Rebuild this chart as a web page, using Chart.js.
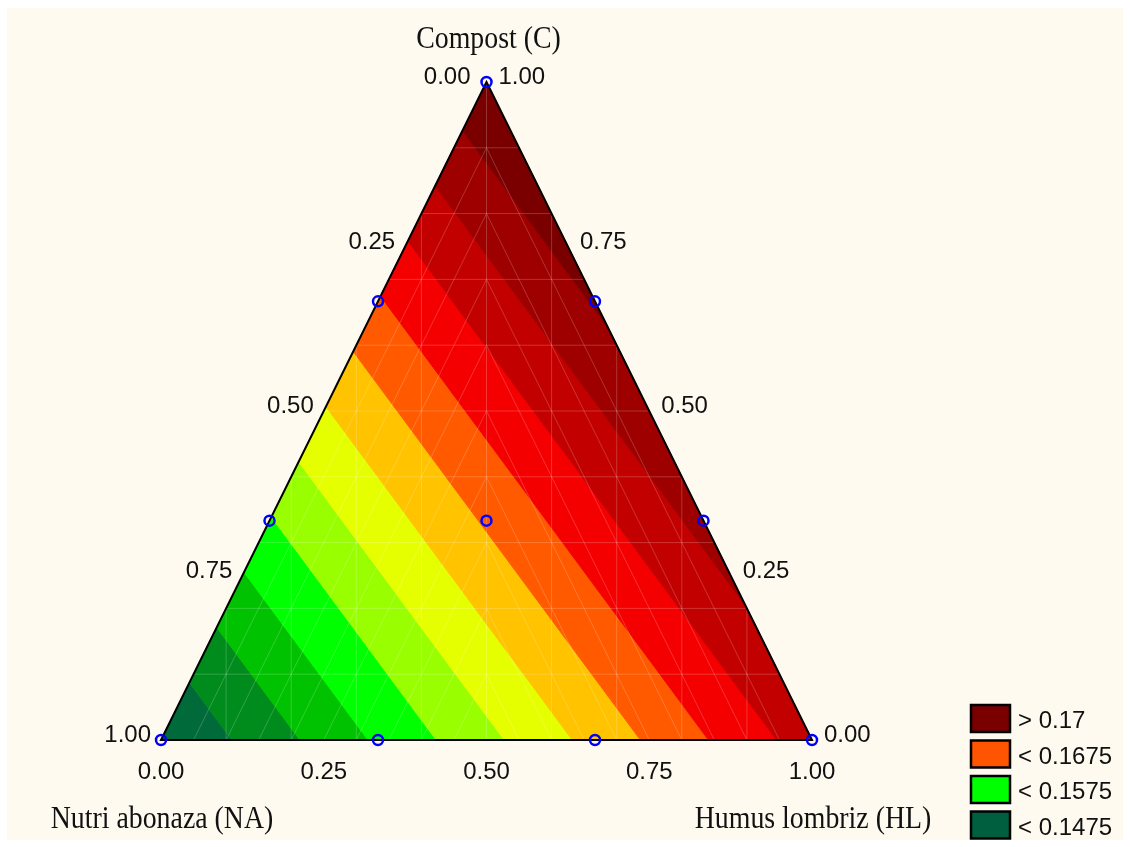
<!DOCTYPE html>
<html>
<head>
<meta charset="utf-8">
<script src="https://cdn.jsdelivr.net/npm/chart.js@4.4.1/dist/chart.umd.min.js"></script>
<style>
  html, body { margin: 0; padding: 0; background: #ffffff; }
  canvas { display: block; }
</style>
</head>
<body>
<canvas id="chart" width="1130" height="847"></canvas>
<script>
// ---- Mixture components ----
const componentTitles = ['Nutri abonaza (NA)', 'Compost (C)', 'Humus lombriz (HL)'];

// ---- Simplex-lattice design runs (fractions of NA, C, HL) ----
const runNA = [1, 0, 0, 0.6667, 0.3333, 0.6667, 0.3333, 0, 0, 0.3333];
const runC  = [0, 1, 0, 0.3333, 0.6667, 0, 0, 0.6667, 0.3333, 0.3333];
const runHL = [0, 0, 1, 0, 0, 0.3333, 0.6667, 0.3333, 0.6667, 0.3333];

// ---- Fitted linear blending model: response of each pure component ----
const responseNA = 0.1474;
const responseC  = 0.1772;
const responseHL = 0.1713;

// ---- Contour levels and band colours (lowest band first) ----
const contourLevels = [0.15, 0.1525, 0.155, 0.1575, 0.16, 0.1625, 0.165, 0.1675, 0.17, 0.1725, 0.175];
const bandColors = ['#006a3a', '#008c1c', '#00c200', '#00ff00', '#99ff00', '#e6ff00',
                    '#ffc300', '#ff5a00', '#f50000', '#c20000', '#9e0000', '#7a0000'];

// ---- Legend ----
const legendLabels = ['> 0.17', '< 0.1675', '< 0.1575', '< 0.1475'];
const legendColors = ['#7a0000', '#ff5500', '#00ff00', '#005f3e'];

// ---- Axis ticks ----
const tickValues = [0, 0.25, 0.5, 0.75, 1];
const tickLabels = ['0.00', '0.25', '0.50', '0.75', '1.00'];

// Barycentric (NA, C, HL) -> plane coordinates of the triangle
function toXY(na, c, hl) {
  return { x: hl + 0.5 * c, y: c };
}

const designPoints = runNA.map((na, i) => toXY(na, runC[i], runHL[i]));

// Clip a polygon (vertices carry the response value v) to v >= level or v <= level
function clipPoly(poly, level, keepAbove) {
  const out = [];
  const inside = p => keepAbove ? p.v >= level : p.v <= level;
  for (let i = 0; i < poly.length; i++) {
    const a = poly[i], b = poly[(i + 1) % poly.length];
    const ia = inside(a), ib = inside(b);
    if (ia) out.push(a);
    if (ia !== ib) {
      const t = (level - a.v) / (b.v - a.v);
      out.push({ x: a.x + t * (b.x - a.x), y: a.y + t * (b.y - a.y), v: level });
    }
  }
  return out;
}

const ternaryPlugin = {
  id: 'ternary',
  beforeDraw(chart) {
    const ctx = chart.ctx;
    ctx.save();
    ctx.fillStyle = '#ffffff';
    ctx.fillRect(0, 0, chart.width, chart.height);
    ctx.fillStyle = '#fffaf0';
    ctx.fillRect(7, 8, chart.width - 14, chart.height - 15);
    ctx.restore();
  },
  beforeDatasetsDraw(chart) {
    const ctx = chart.ctx;
    const sx = chart.scales.x, sy = chart.scales.y;
    const P = p => [sx.getPixelForValue(p.x), sy.getPixelForValue(p.y)];

    const vNA = toXY(1, 0, 0), vC = toXY(0, 1, 0), vHL = toXY(0, 0, 1);
    const tri = [
      { x: vNA.x, y: vNA.y, v: responseNA },
      { x: vHL.x, y: vHL.y, v: responseHL },
      { x: vC.x,  y: vC.y,  v: responseC }
    ];

    const tracePoly = poly => {
      ctx.beginPath();
      poly.forEach((p, i) => {
        const [X, Y] = P(p);
        if (i === 0) ctx.moveTo(X, Y); else ctx.lineTo(X, Y);
      });
      ctx.closePath();
    };

    // Contour bands
    ctx.save();
    bandColors.forEach((col, k) => {
      let poly = tri;
      if (k > 0) poly = clipPoly(poly, contourLevels[k - 1], true);
      if (k < contourLevels.length) poly = clipPoly(poly, contourLevels[k], false);
      if (poly.length < 3) return;
      tracePoly(poly);
      ctx.fillStyle = col;
      ctx.fill();
      ctx.strokeStyle = col;
      ctx.lineWidth = 1;
      ctx.stroke();
    });
    ctx.restore();

    // Faint triangulation mesh
    ctx.save();
    tracePoly(tri);
    ctx.clip();
    ctx.strokeStyle = 'rgba(255,255,255,0.2)';
    ctx.lineWidth = 1;
    const seg = (a, b) => {
      const [x1, y1] = P(a), [x2, y2] = P(b);
      ctx.beginPath(); ctx.moveTo(x1, y1); ctx.lineTo(x2, y2); ctx.stroke();
    };
    for (let k = 1; k < 10; k++) {
      seg({ x: k / 10, y: 0 }, { x: k / 10, y: 1 });
      seg({ x: 0, y: k / 10 }, { x: 1, y: k / 10 });
    }
    const [midX] = P({ x: 0.5, y: 0 });
    ctx.save();
    ctx.beginPath(); ctx.rect(0, 0, midX, chart.height); ctx.clip();
    for (let k = 1; k < 20; k++) seg({ x: k / 20, y: 0 }, { x: k / 20 + 0.5, y: 1 });
    ctx.restore();
    ctx.save();
    ctx.beginPath(); ctx.rect(midX, 0, chart.width, chart.height); ctx.clip();
    for (let k = 1; k < 20; k++) seg({ x: k / 20, y: 0 }, { x: k / 20 - 0.5, y: 1 });
    ctx.restore();
    ctx.restore();

    // Triangle outline
    ctx.save();
    tracePoly(tri);
    ctx.strokeStyle = '#000000';
    ctx.lineWidth = 2;
    ctx.lineJoin = 'miter';
    ctx.stroke();
    ctx.restore();
  },
  afterDraw(chart) {
    const ctx = chart.ctx;
    const sx = chart.scales.x, sy = chart.scales.y;
    const P = p => [sx.getPixelForValue(p.x), sy.getPixelForValue(p.y)];
    const numFont = '24px "Liberation Sans", Arial, sans-serif';
    const titleFont = '32px "Liberation Serif", "Times New Roman", serif';

    const text = (str, X, Y, font, align, squeeze) => {
      ctx.save();
      ctx.font = font;
      ctx.fillStyle = '#111111';
      ctx.textBaseline = 'alphabetic';
      ctx.textAlign = align;
      ctx.translate(X, Y);
      ctx.scale(squeeze || 1, 1);
      ctx.fillText(str, 0, 0);
      ctx.restore();
    };

    // NA scale along the left edge (0 at the C apex, 1 at the NA corner)
    tickValues.forEach((t, i) => {
      const [X, Y] = P(toXY(t, 1 - t, 0));
      text(tickLabels[i], X - (t === 0 ? 16 : 10), Y + 2, numFont, 'right');
    });
    // C scale along the right edge (1 at the apex, 0 at the HL corner)
    tickValues.forEach((t, i) => {
      const [X, Y] = P(toXY(0, t, 1 - t));
      text(tickLabels[i], X + 12, Y + 2, numFont, 'left');
    });
    // HL scale along the base
    tickValues.forEach((t, i) => {
      const [X, Y] = P(toXY(1 - t, 0, t));
      text(tickLabels[i], X, Y + 39, numFont, 'center');
    });

    // Component titles
    const [cx, cy] = P(toXY(0, 1, 0));
    text(componentTitles[1], cx + 2, cy - 34, titleFont, 'center', 0.87);
    const [nx, ny] = P(toXY(1, 0, 0));
    text(componentTitles[0], nx + 1, ny + 88, titleFont, 'center', 0.87);
    const [hx, hy] = P(toXY(0, 0, 1));
    text(componentTitles[2], hx + 1, hy + 88, titleFont, 'center', 0.87);

    // Legend
    legendLabels.forEach((lab, i) => {
      const top = 705 + i * 35.5;
      ctx.save();
      ctx.fillStyle = legendColors[i];
      ctx.fillRect(971, top, 39, 27);
      ctx.strokeStyle = '#000000';
      ctx.lineWidth = 2.5;
      ctx.strokeRect(971, top, 39, 27);
      ctx.restore();
      text(lab, 1018, top + 23, numFont, 'left');
    });
  }
};

new Chart(document.getElementById('chart'), {
  type: 'scatter',
  data: {
    datasets: [{
      label: 'Design runs',
      data: designPoints,
      pointStyle: 'circle',
      pointRadius: 5,
      pointBorderWidth: 2.5,
      borderColor: '#0000ff',
      backgroundColor: 'rgba(0,0,0,0)',
      clip: false
    }]
  },
  options: {
    responsive: false,
    devicePixelRatio: 1,
    animation: false,
    events: [],
    layout: { padding: { left: 161, right: 318, top: 82, bottom: 107 } },
    scales: {
      x: { type: 'linear', min: 0, max: 1, display: false },
      y: { type: 'linear', min: 0, max: 1, display: false }
    },
    plugins: { legend: { display: false }, tooltip: { enabled: false } }
  },
  plugins: [ternaryPlugin]
});
</script>
</body>
</html>
